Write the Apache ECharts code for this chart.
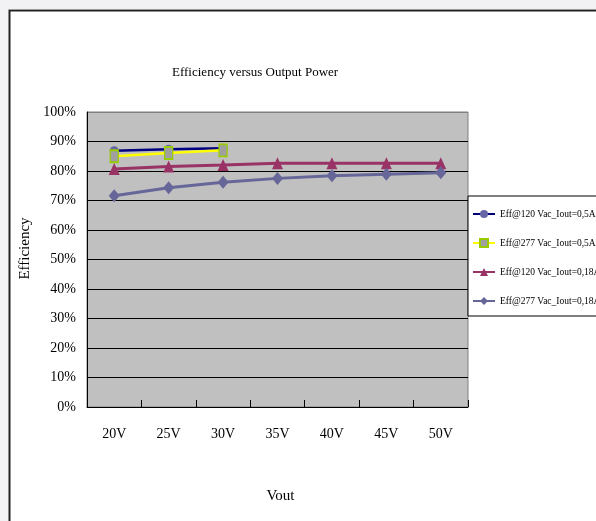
<!DOCTYPE html>
<html>
<head>
<meta charset="utf-8">
<style>
  html, body { margin: 0; padding: 0; background: #f2f2f4; }
  #chart { width: 596px; height: 521px; }
</style>
<script src="https://cdn.jsdelivr.net/npm/echarts@6/dist/echarts.min.js"></script>
</head>
<body>
<div id="chart"></div>
<script>
// Output voltage categories
const vout = ['20V', '25V', '30V', '35V', '40V', '45V', '50V'];

// Efficiency (%) per test condition
const eff120Full = [86.9, 87.4, 87.7];
const eff277Full = [85.0, 86.1, 87.0];
const eff120Light = [80.7, 81.5, 82.0, 82.6, 82.6, 82.6, 82.6];
const eff277Light = [71.6, 74.3, 76.2, 77.5, 78.4, 78.9, 79.4];

const seriesNames = [
  'Eff@120 Vac_Iout=0,5A',
  'Eff@277 Vac_Iout=0,5A',
  'Eff@120 Vac_Iout=0,18A',
  'Eff@277 Vac_Iout=0,18A'
];

const FONT = '"Liberation Serif", "Times New Roman", serif';

// Gridlines are black, the 100% one merges with the grey plot border
const splitColors = ['#000', '#000', '#000', '#000', '#000', '#000', '#000', '#000', '#000', '#000', '#808080'];

const chart = echarts.init(document.getElementById('chart'));
chart.setOption({
  animation: false,
  backgroundColor: '#f2f2f4',
  graphic: [{
    type: 'rect',
    z: -10,
    shape: { x: 9.5, y: 10.5, width: 700, height: 600 },
    style: { fill: '#ffffff', stroke: '#222222', lineWidth: 2 }
  }, {
    type: 'line',
    z: -10,
    shape: { x1: 9, y1: 9.5, x2: 700, y2: 9.5 },
    style: { stroke: '#9a9a9a', lineWidth: 1 }
  }],
  title: {
    text: 'Efficiency versus Output Power',
    left: 172,
    top: 66,
    padding: 0,
    textStyle: { fontFamily: FONT, fontSize: 13, fontWeight: 'normal', color: '#000' }
  },
  legend: {
    orient: 'vertical',
    left: 468,
    top: 196,
    padding: [13, 200, 10, 4],
    itemWidth: 22,
    itemHeight: 10,
    itemGap: 19,
    backgroundColor: '#ffffff',
    borderColor: '#000000',
    borderWidth: 1,
    textStyle: { fontFamily: FONT, fontSize: 9.5, color: '#000' },
    data: seriesNames
  },
  grid: {
    left: 87,
    right: 128,
    top: 112,
    bottom: 114,
    show: true,
    backgroundColor: '#c0c0c0',
    borderColor: '#808080',
    borderWidth: 1
  },
  xAxis: {
    type: 'category',
    data: vout,
    boundaryGap: true,
    name: 'Vout',
    nameLocation: 'middle',
    nameGap: 82,
    nameTextStyle: { fontFamily: FONT, fontSize: 15, color: '#000', padding: [0, 0, 0, 6] },
    axisLine: { lineStyle: { color: '#000', width: 1 } },
    axisTick: { show: true, inside: true, length: 7, lineStyle: { color: '#000' } },
    axisLabel: { fontFamily: FONT, fontSize: 14, color: '#000', margin: 20 },
    splitLine: { show: false }
  },
  yAxis: {
    type: 'value',
    min: 0,
    max: 100,
    interval: 10,
    name: 'Efficiency',
    nameLocation: 'middle',
    nameGap: 49,
    nameTextStyle: { fontFamily: FONT, fontSize: 15, color: '#000', padding: [0, 0, 0, 22] },
    axisLine: { show: true, lineStyle: { color: '#000', width: 1 } },
    axisTick: { show: false },
    axisLabel: { fontFamily: FONT, fontSize: 14, color: '#000', margin: 11, formatter: '{value}%' },
    splitLine: { show: true, lineStyle: { color: splitColors, width: 1 } }
  },
  series: [
    {
      name: seriesNames[0],
      type: 'line',
      data: eff120Full,
      symbol: 'circle',
      symbolSize: 9,
      lineStyle: { color: '#000080', width: 2.5 },
      itemStyle: { color: '#6666a6' }
    },
    {
      name: seriesNames[1],
      type: 'line',
      data: eff277Full,
      symbol: 'rect',
      symbolSize: [8, 12],
      lineStyle: { color: '#ffff00', width: 2.5 },
      itemStyle: { color: '#a0a0a0', borderColor: '#99cc00', borderWidth: 1.5 }
    },
    {
      name: seriesNames[2],
      type: 'line',
      data: eff120Light,
      symbol: 'triangle',
      symbolSize: [11, 12],
      lineStyle: { color: '#993366', width: 3 },
      itemStyle: { color: '#993366' }
    },
    {
      name: seriesNames[3],
      type: 'line',
      data: eff277Light,
      symbol: 'diamond',
      symbolSize: [11, 13],
      lineStyle: { color: '#666699', width: 3 },
      itemStyle: { color: '#666699' }
    }
  ]
});
</script>
</body>
</html>
